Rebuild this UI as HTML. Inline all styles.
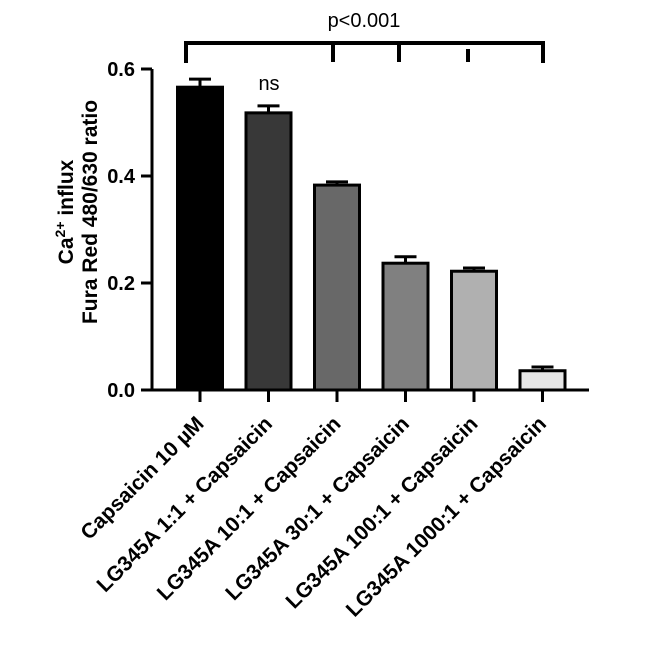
<!DOCTYPE html>
<html><head><meta charset="utf-8"><style>
body{margin:0;background:#fff;width:646px;height:667px;overflow:hidden}
text{font-family:"Liberation Sans",Arial,sans-serif}
</style></head><body>
<svg width="646" height="667">
<g id="g"></g>
</svg>
<script>
const categories=["Capsaicin 10 µM","LG345A 1:1 + Capsaicin","LG345A 10:1 + Capsaicin","LG345A 30:1 + Capsaicin","LG345A 100:1 + Capsaicin","LG345A 1000:1 + Capsaicin"];
const values=[0.566,0.518,0.383,0.237,0.222,0.036];
const errors=[0.015,0.013,0.006,0.012,0.006,0.007];
const fills=["#000000","#383838","#686868","#808080","#b0b0b0","#e6e6e6"];
const yTicks=[0,0.2,0.4,0.6];
const yTickLabels=["0.0","0.2","0.4","0.6"];
const NS="http://www.w3.org/2000/svg";
const g=document.getElementById('g');
const y=v=>390-v*535;
const x=i=>200+i*68.5;
function mk(t,a){const e=document.createElementNS(NS,t);for(const k in a)e.setAttribute(k,a[k]);g.appendChild(e);return e;}
let e=mk('line',{x1:152,y1:69,x2:152,y2:391,stroke:'#000','stroke-width':3});


e=mk('line',{x1:141,y1:390,x2:589,y2:390,stroke:'#000','stroke-width':3});


yTicks.forEach((t,i)=>{
 e=mk('line',{x1:141,y1:y(t),x2:152,y2:y(t),stroke:'#000','stroke-width':3});
 
 
 e=mk('text',{x:135,y:y(t)+7,'text-anchor':'end','font-size':20,'font-weight':'bold'});
 e.textContent=yTickLabels[i];
 
 
});
categories.forEach((c,i)=>{
 const cx=x(i),w=45;
 e=mk('line',{x1:cx,y1:y(values[i]),x2:cx,y2:y(values[i]+errors[i]),stroke:'#000','stroke-width':3});
 
 
 e=mk('line',{x1:cx-11,y1:y(values[i]+errors[i]),x2:cx+11,y2:y(values[i]+errors[i]),stroke:'#000','stroke-width':3});
 
 
 e=mk('rect',{x:cx-w/2,y:y(values[i]),width:w,height:390-y(values[i]),fill:fills[i],stroke:'#000','stroke-width':3});
 
 
 e=mk('line',{x1:cx,y1:390,x2:cx,y2:402,stroke:'#000','stroke-width':3});
 
 
 e=mk('text',{x:cx+5,y:425,'text-anchor':'end','font-size':21,'font-weight':'bold',transform:`rotate(-45 ${cx+5} 425)`});
 e.textContent=c;
 
 
});
e=mk('path',{d:'M186,63 V43 H543 V63 M333,43 V62 M399,43 V62 M468,49 V62',fill:'none',stroke:'#000','stroke-width':4});


e=mk('text',{x:364,y:27,'text-anchor':'middle','font-size':20});
e.textContent='p<0.001';


e=mk('text',{x:269,y:90,'text-anchor':'middle','font-size':20});
e.textContent='ns';


e=mk('text',{x:0,y:0,'text-anchor':'middle','font-size':21,'font-weight':'bold',transform:'translate(73,212) rotate(-90)'});
e.innerHTML='<tspan x="0" dy="0">Ca<tspan font-size="14" dy="-8">2+</tspan><tspan dy="8"> influx</tspan></tspan><tspan x="0" dy="24">Fura Red 480/630 ratio</tspan>';


</script>
</body></html>
